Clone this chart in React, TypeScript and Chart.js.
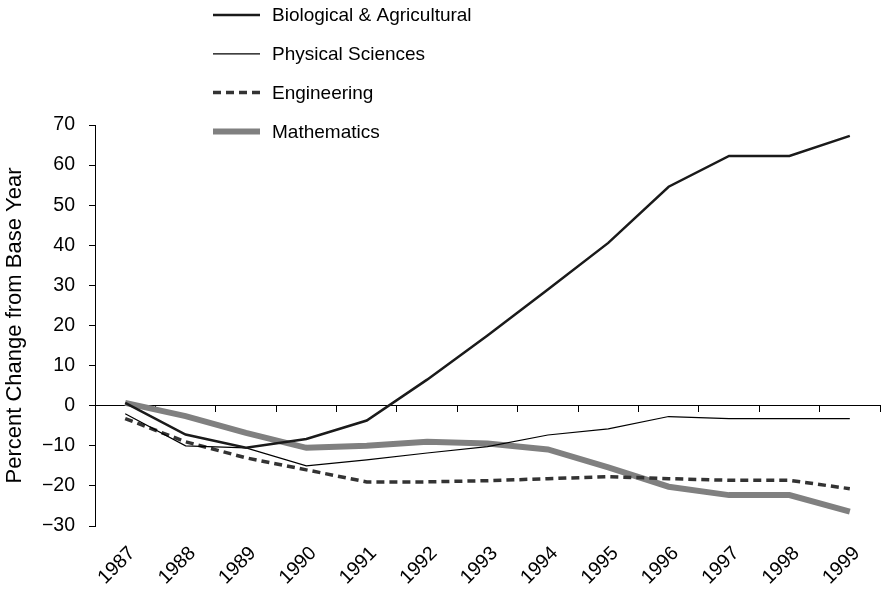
import React, { useEffect, useRef } from "react";
import { Chart, registerables } from "chart.js";

Chart.register(...registerables);

const years = ["1987","1988","1989","1990","1991","1992","1993","1994","1995","1996","1997","1998","1999"];
const biological = [0.7, -7.2, -10.5, -8.3, -3.7, 6.5, 17.5, 29, 40.6, 54.6, 62.3, 62.3, 67.3];
const physical = [-2, -10, -10.5, -15, -13.5, -11.8, -10.2, -7.3, -5.8, -2.7, -3.2, -3.2, -3.2];
const engineering = [-3.2, -9, -13, -16, -19, -19, -18.7, -18.2, -17.7, -18.2, -18.6, -18.6, -20.7];
const mathematics = [0.7, -2.6, -6.8, -10.5, -10, -9, -9.4, -10.9, -15.4, -20.2, -22.3, -22.3, -26.4];
const yTicks = [-30, -20, -10, 0, 10, 20, 30, 40, 50, 60, 70];

const FONT = "'Liberation Sans', Arial, Helvetica, sans-serif";

const legendPlugin = {
  id: "customLegend",
  afterDraw(chart: any) {
    const ctx = chart.ctx;
    ctx.save();
    chart.data.datasets.forEach((ds: any, i: number) => {
      const y = 15 + i * 38.8;
      ctx.beginPath();
      ctx.strokeStyle = ds.borderColor;
      ctx.lineWidth = ds.borderWidth;
      ctx.setLineDash(ds.borderDash || []);
      ctx.moveTo(213, y);
      ctx.lineTo(260, y);
      ctx.stroke();
      ctx.setLineDash([]);
      ctx.fillStyle = "#000";
      ctx.font = `19px ${FONT}`;
      ctx.textAlign = "left";
      ctx.textBaseline = "middle";
      ctx.fillText(ds.label, 272, y + 1);
    });
    ctx.restore();
  },
};

export default function App() {
  const ref = useRef<HTMLCanvasElement>(null);
  useEffect(() => {
    if (!ref.current) return;
    const chart = new Chart(ref.current, {
      type: "line",
      data: {
        labels: years,
        datasets: [
          { label: "Biological & Agricultural", data: biological, borderColor: "#1a1a1a", borderWidth: 2.5, pointRadius: 0, tension: 0 },
          { label: "Physical Sciences", data: physical, borderColor: "#000000", borderWidth: 1.2, pointRadius: 0, tension: 0 },
          { label: "Engineering", data: engineering, borderColor: "#333333", borderWidth: 3.5, borderDash: [8, 5], pointRadius: 0, tension: 0 },
          { label: "Mathematics", data: mathematics, borderColor: "#808080", borderWidth: 6, pointRadius: 0, tension: 0 },
        ],
      },
      options: {
        responsive: false,
        animation: false,
        layout: { padding: { top: 125, right: 4, left: 0, bottom: 0 } },
        plugins: { legend: { display: false }, tooltip: { enabled: false } },
        scales: {
          x: {
            type: "category",
            position: "bottom",
            offset: true,
            grid: { display: false },
            border: { display: false },
            ticks: {
              color: "#000",
              font: { family: FONT, size: 19.5 },
              minRotation: 45,
              maxRotation: 45,
              autoSkip: false,
              padding: 8,
              labelOffset: 7,
            },
            afterFit(s: any) { s.height = 67; },
          },
          x0: {
            type: "category",
            labels: years,
            position: { y: 0 } as any,
            offset: true,
            grid: { offset: true, drawOnChartArea: false, drawTicks: true, tickLength: 6, color: "#000", lineWidth: 1 },
            border: { display: true, color: "#000", width: 1 },
            ticks: { display: false },
          },
          y: {
            min: -30,
            max: 70,
            afterBuildTicks(s: any) { s.ticks = yTicks.map((v) => ({ value: v })); },
            grid: { drawOnChartArea: false, drawTicks: true, tickLength: 6, color: "#000", tickColor: "#000" },
            border: { display: true, color: "#000", width: 1 },
            ticks: {
              color: "#000",
              font: { family: FONT, size: 19.5 },
              padding: 14,
              callback: (v: any) => (Number(v) < 0 ? "\u2212" + Math.abs(Number(v)) : String(v)),
            },
            title: {
              display: true,
              text: "Percent Change from Base Year",
              color: "#000",
              font: { family: FONT, size: 22 },
              padding: { top: 2, bottom: 4 },
            },
            afterFit(s: any) { s.width = 95; },
          },
        },
      },
      plugins: [legendPlugin],
    } as any);
    return () => chart.destroy();
  }, []);
  return (
    <div style={{ position: "fixed", left: 0, top: 0, width: 884, height: 593, background: "#fff" }}>
      <canvas ref={ref} width={884} height={593} />
    </div>
  );
}
